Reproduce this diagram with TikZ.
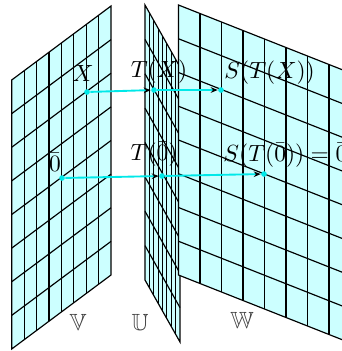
\documentclass[tikz,border=0pt]{standalone}
\usepackage{amsmath, amsfonts, amssymb}
\usepackage{tikz}
\usetikzlibrary{calc, arrows.meta}
\usepackage{xcolor}
\definecolor{PlaneFill}{HTML}{CCFFFF}
\definecolor{MapCyan}{HTML}{00E8E8}

\begin{document}
\begin{tikzpicture}[x=0.015cm, y=-0.015cm,
    plane/.style={fill=PlaneFill, draw=black, line width=0.5pt},
    gridline/.style={black, line width=0.5pt},
    dot/.style={circle, fill=MapCyan, inner sep=0pt, minimum size=2.4pt},
    maparrow/.style={MapCyan, line width=0.8pt, -{Stealth[black, length=3pt, width=2.4pt]}}]
  \useasboundingbox (0,0) rectangle (342,351);
  \clip (0,0) rectangle (342,351);
  % plane V
  \filldraw[plane] (11.7,80) -- ++(99.3,-74) -- ++(0,269) -- ++(-99.3,74) -- cycle;
  \foreach \i in {1,...,7}{
    \draw[gridline] ({11.7+12.4125*\i},{80-9.25*\i}) -- ++(0,269);
    \draw[gridline] (11.7,{80+33.625*\i}) -- ++(99.3,-74);
  }
  % plane U
  \filldraw[plane] (145,5) -- ++(35,62) -- ++(0,275) -- ++(-35,-62) -- cycle;
  \foreach \i in {1,...,7}{
    \draw[gridline] ({145+4.375*\i},{5+7.75*\i}) -- ++(0,275);
    \draw[gridline] (145,{5+34.375*\i}) -- ++(35,62);
  }
  % plane W
  \filldraw[plane] (178.5,5) -- ++(172,68) -- ++(0,270) -- ++(-172,-68) -- cycle;
  \foreach \i in {1,...,7}{
    \draw[gridline] ({178.5+21.5*\i},{5+8.5*\i}) -- ++(0,270);
    \draw[gridline] (178.5,{5+33.75*\i}) -- ++(172,68);
  }
  % points and maps
  \node[dot] (x) at (87,92) {};
  \node[dot] (tx) at (154,90) {};
  \node[dot] (stx) at (221,90) {};
  \node[dot] (z) at (62,178) {};
  \node[dot] (tz) at (162,176) {};
  \node[dot] (stz) at (264,174) {};
  \draw[maparrow] (x) -- (tx);
  \draw[maparrow] (tx) -- (stx);
  \draw[maparrow] (z) -- (tz);
  \draw[maparrow] (tz) -- (stz);
  % labels
  \node (lx) at (83,73) {$X$};
  \node (ltx) at (159,72) {$T(X)$};
  \node[anchor=west, inner sep=0pt] (lstx) at (224,73) {$S(T(X))$};
  \node (lz) at (55,162) {$\bar{0}$};
  \node (ltz) at (154,154) {$T(\bar{0})$};
  \node[anchor=west, inner sep=0pt] (lstz) at (223,155) {$S(T(\bar{0}))=\bar{0}$};
  \node[text=black!75] (lv) at (78,322) {$\mathbb{V}$};
  \node[text=black!75] (lu) at (140,322) {$\mathbb{U}$};
  \node[text=black!75] (lw) at (242,320) {$\mathbb{W}$};
\end{tikzpicture}
\end{document}
